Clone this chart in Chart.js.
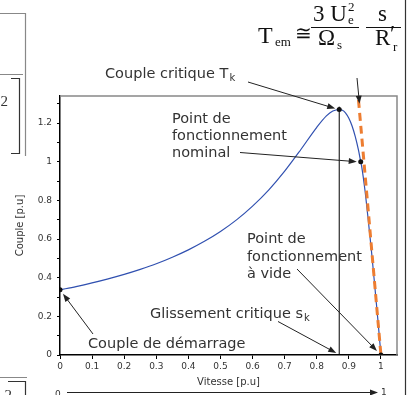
<!DOCTYPE html>
<html>
<head>
<meta charset="utf-8">
<script src="https://cdn.jsdelivr.net/npm/chart.js@4.4.1/dist/chart.umd.min.js"></script>
<style>
  html, body { margin: 0; padding: 0; background: #fff; }
  #wrap { position: relative; width: 409px; height: 395px; }
</style>
</head>
<body>
<div id="wrap"><canvas id="coupleChart" width="409" height="395"></canvas></div>
<script>
// Caractéristique couple-vitesse de la machine asynchrone (valeurs en p.u)
const vitesse = [0, 0.05, 0.1, 0.15, 0.2, 0.25, 0.3, 0.35, 0.4, 0.45, 0.5, 0.55, 0.6, 0.65, 0.7, 0.75, 0.8, 0.83, 0.85, 0.87, 0.88, 0.89, 0.9, 0.91, 0.92, 0.93, 0.937, 0.94, 0.95, 0.96, 0.97, 0.98, 0.99, 1];
const couple = [0.337, 0.354, 0.373, 0.394, 0.417, 0.443, 0.472, 0.506, 0.544, 0.588, 0.639, 0.699, 0.770, 0.853, 0.951, 1.062, 1.178, 1.237, 1.262, 1.270, 1.266, 1.252, 1.225, 1.185, 1.130, 1.060, 1.000, 0.975, 0.855, 0.705, 0.545, 0.370, 0.190, 0];

// Approximation linéaire (zone de faible glissement)
const approxVitesse = [0.93, 1];
const approxCouple = [1.32, 0];

// Glissement critique
const critiqueVitesse = [0.87, 0.87];
const critiqueCouple = [0, 1.285];

// Points remarquables : démarrage, critique, nominal, à vide
const pointsVitesse = [0, 0.87, 0.937, 1];
const pointsCouple = [0.337, 1.27, 1.0, 0];

const xTicks = [0, 0.1, 0.2, 0.3, 0.4, 0.5, 0.6, 0.7, 0.8, 0.9, 1];
const yTicks = [0, 0.2, 0.4, 0.6, 0.8, 1, 1.2];

function toXY(xs, ys) {
    return xs.map((x, i) => ({ x: x, y: ys[i] }));
}

const SANS = "'DejaVu Sans', Verdana, sans-serif";
const SERIF = "'Liberation Serif', 'Times New Roman', serif";
const TXT = '#333333';

function arrow(c, x1, y1, x2, y2) {
    const a = Math.atan2(y2 - y1, x2 - x1);
    const L = 8, W = 3;
    c.save();
    c.strokeStyle = '#222';
    c.fillStyle = '#222';
    c.lineWidth = 1;
    c.beginPath();
    c.moveTo(x1, y1);
    c.lineTo(x2 - Math.cos(a) * (L - 1), y2 - Math.sin(a) * (L - 1));
    c.stroke();
    c.beginPath();
    c.moveTo(x2, y2);
    c.lineTo(x2 - L * Math.cos(a) + W * Math.sin(a), y2 - L * Math.sin(a) - W * Math.cos(a));
    c.lineTo(x2 - L * Math.cos(a) - W * Math.sin(a), y2 - L * Math.sin(a) + W * Math.cos(a));
    c.closePath();
    c.fill();
    c.restore();
}

function textSub(c, x, y, main, sub, size) {
    c.font = size + 'px ' + SANS;
    c.fillText(main, x, y);
    const w = c.measureText(main).width;
    c.font = Math.round(size * 0.7) + 'px ' + SANS;
    c.fillText(sub, x + w + 1, y + 3);
}

// Annotations, cadre et formule
const annotations = {
    id: 'annotations',
    afterDraw(chart) {
        const c = chart.ctx;
        const a = chart.chartArea;
        const xs = chart.scales.x, ys = chart.scales.y;
        const px = v => xs.getPixelForValue(v);
        const py = v => ys.getPixelForValue(v);

        c.save();
        // bordure haute et droite du graphique
        c.strokeStyle = '#888';
        c.lineWidth = 1.5;
        c.beginPath();
        c.moveTo(a.left, a.top);
        c.lineTo(a.right, a.top);
        c.lineTo(a.right, a.bottom);
        c.stroke();

        // fragments des figures voisines
        c.lineWidth = 1.2;
        c.beginPath();
        c.moveTo(0, 13.5); c.lineTo(25.5, 13.5); c.lineTo(25.5, 156);
        c.moveTo(0, 74.5); c.lineTo(23, 74.5);
        c.moveTo(0, 377.5); c.lineTo(27, 377.5);
        c.stroke();
        c.strokeStyle = '#333';
        c.beginPath();
        c.moveTo(11, 78.5); c.lineTo(19.5, 78.5); c.lineTo(19.5, 153.5); c.lineTo(11, 153.5);
        c.moveTo(8, 381.5); c.lineTo(25.5, 381.5); c.lineTo(25.5, 395);
        c.moveTo(405.5, 0); c.lineTo(405.5, 395);
        c.stroke();
        c.fillStyle = TXT;
        c.font = '15px ' + SERIF;
        c.textAlign = 'right';
        c.fillText('2', 8, 106);
        c.fillText('2', 12, 400);
        c.textAlign = 'left';

        // axe 0 -> 1 en bas
        c.font = '9px ' + SANS;
        c.fillText('0', 55, 397);
        c.fillText('1', 381, 395);
        arrow(c, 67, 392.5, 378, 392.5);

        // formule du couple
        c.fillStyle = '#111';
        c.font = '24px ' + SERIF;
        c.fillText('T', 258, 43);
        c.font = '13px ' + SERIF;
        c.fillText('em', 275, 46);
        c.font = '20px ' + SERIF;
        c.fillText('\u2245', 295, 40);
        c.font = '23px ' + SERIF;
        c.fillText('3 U', 313, 21);
        c.font = '13px ' + SERIF;
        c.fillText('e', 348, 24);
        c.fillText('2', 348, 11);
        c.font = '23px ' + SERIF;
        c.fillText('\u03A9', 318, 45);
        c.font = '13px ' + SERIF;
        c.fillText('s', 337, 49);
        c.font = '23px ' + SERIF;
        c.fillText('s', 378, 21);
        c.fillText('R', 375, 45);
        c.fillText('\u2032', 390, 41);
        c.font = '13px ' + SERIF;
        c.fillText('r', 393, 51);
        c.strokeStyle = '#111';
        c.lineWidth = 1;
        c.beginPath();
        c.moveTo(311, 27.5); c.lineTo(359, 27.5);
        c.moveTo(366, 27.5); c.lineTo(401, 27.5);
        c.stroke();

        // textes et flèches
        c.fillStyle = TXT;
        const fs = 14.5;
        textSub(c, 105, 78, 'Couple critique T', 'k', fs);
        arrow(c, 248, 82, px(0.87) - 4, py(1.27) - 1);
        arrow(c, 357, 78, px(0.93) + 1, py(1.3));

        c.font = fs + 'px ' + SANS;
        c.fillText('Point de', 172, 123);
        c.fillText('fonctionnement', 172, 140);
        c.fillText('nominal', 172, 157);
        arrow(c, 240, 152.5, px(0.937) - 4, py(1.0));

        c.fillText('Point de', 247, 243);
        c.fillText('fonctionnement', 247, 261);
        c.fillText('\u00E0 vide', 247, 278);
        arrow(c, 297, 269, px(1) - 4, py(0) - 4);

        textSub(c, 150, 318, 'Glissement critique s', 'k', fs);
        arrow(c, 278, 321.5, px(0.87) - 3, py(0) - 2);

        c.font = fs + 'px ' + SANS;
        c.fillText('Couple de d\u00E9marrage', 88, 348);
        arrow(c, 93, 334, px(0) + 3, py(0.337) + 4);
        c.restore();
    }
};

const ctx = document.getElementById('coupleChart');

new Chart(ctx, {
    type: 'scatter',
    data: {
        datasets: [
            {
                data: toXY(pointsVitesse, pointsCouple),
                showLine: false,
                pointRadius: 2.5,
                pointBackgroundColor: '#111',
                pointBorderColor: '#111',
                pointBorderWidth: 0
            },
            {
                data: toXY(approxVitesse, approxCouple),
                showLine: true,
                borderColor: '#ED7D31',
                borderWidth: 3,
                borderDash: [8, 5],
                pointRadius: 0
            },
            {
                data: toXY(critiqueVitesse, critiqueCouple),
                showLine: true,
                borderColor: '#000',
                borderWidth: 1,
                pointRadius: 0
            },
            {
                data: toXY(vitesse, couple),
                showLine: true,
                borderColor: '#3050B0',
                borderWidth: 1.2,
                cubicInterpolationMode: 'monotone',
                pointRadius: 0
            }
        ]
    },
    options: {
        responsive: false,
        animation: false,
        events: [],
        layout: {
            padding: { top: 96, right: 12, left: 0, bottom: 0 }
        },
        plugins: {
            legend: { display: false },
            tooltip: { enabled: false }
        },
        scales: {
            x: {
                type: 'linear',
                min: 0,
                max: 1.05,
                afterFit: s => { s.height = 40; },
                afterBuildTicks: s => { s.ticks = xTicks.map(v => ({ value: v })); },
                ticks: {
                    autoSkip: false,
                    maxRotation: 0,
                    padding: 2,
                    color: TXT,
                    font: { family: SANS, size: 9 },
                    callback: v => String(Number(v.toFixed(1)))
                },
                grid: {
                    drawOnChartArea: false,
                    drawTicks: true,
                    tickLength: 4,
                    color: '#000'
                },
                border: { color: '#000', width: 1.5 },
                title: {
                    display: true,
                    text: 'Vitesse [p.u]',
                    color: TXT,
                    font: { family: SANS, size: 10 },
                    padding: { top: 0, bottom: 7 }
                }
            },
            y: {
                min: 0,
                max: 1.34,
                afterFit: s => { s.width = 60; },
                afterBuildTicks: s => {
                    const t = [];
                    for (let i = 0; i <= 13; i++) t.push({ value: i / 10 });
                    s.ticks = t;
                },
                ticks: {
                    autoSkip: false,
                    padding: 5,
                    color: TXT,
                    font: { family: SANS, size: 9 },
                    callback: v => {
                        const r = Math.round(v * 10) / 10;
                        return yTicks.includes(r) ? String(r) : '';
                    }
                },
                grid: {
                    drawOnChartArea: false,
                    drawTicks: true,
                    tickLength: 3,
                    color: '#000'
                },
                border: { color: '#000', width: 1.5 },
                title: {
                    display: true,
                    text: 'Couple [p.u]',
                    color: TXT,
                    font: { family: SANS, size: 10 },
                    padding: { top: 14, bottom: 0 }
                }
            }
        }
    },
    plugins: [annotations]
});
</script>
</body>
</html>
